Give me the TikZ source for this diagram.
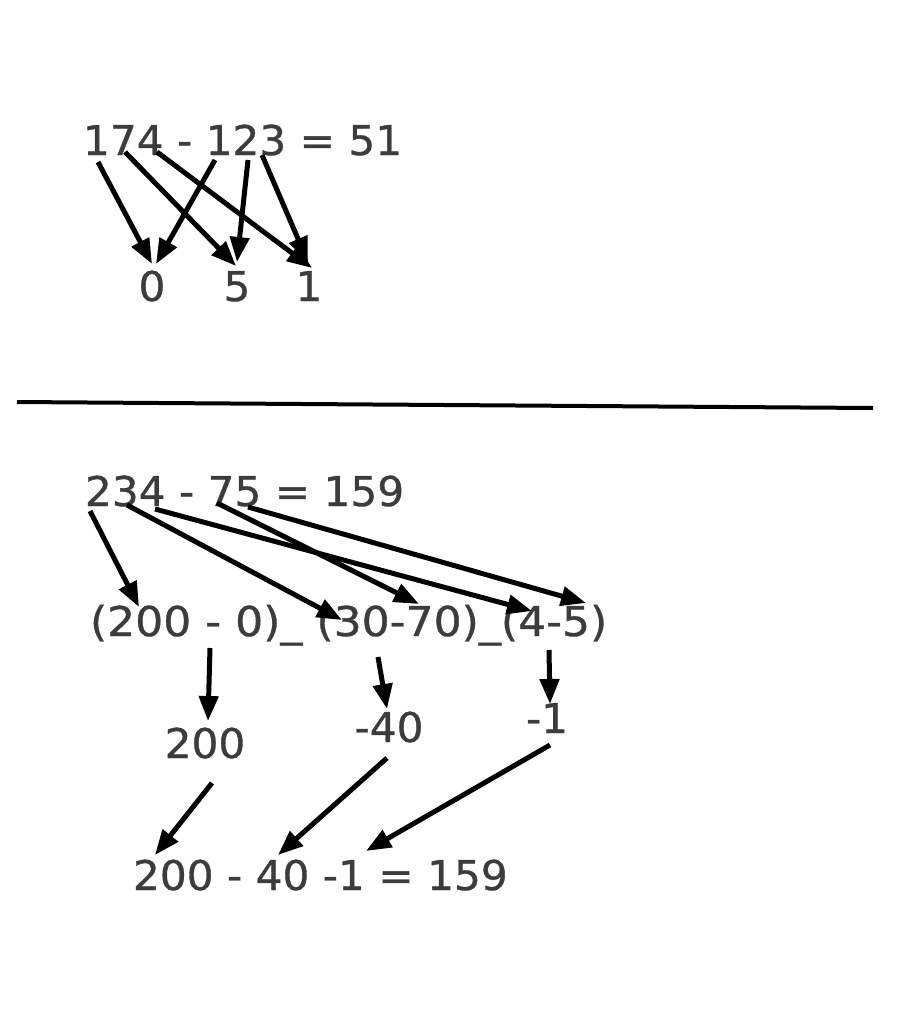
\documentclass[tikz,border=0pt]{standalone}
\usepackage{fontspec}
\setmainfont{DejaVu Sans}[FakeStretch=1.03,FakeBold=0.8]
\usetikzlibrary{arrows.meta}
\definecolor{txt}{HTML}{3C3C3C}
\tikzset{
  lbl/.style={anchor=base west, inner sep=0pt, outer sep=0pt, text=txt, font=\fontsize{41}{45}\selectfont},
  clbl/.style={anchor=base, inner sep=0pt, outer sep=0pt, text=txt, font=\fontsize{41}{45}\selectfont},
  arr/.style={line width=5pt, -{Triangle[length=25pt,width=19pt]}, black},
}
\begin{document}
\begin{tikzpicture}[x=1pt,y=-1pt]
\useasboundingbox (0,0) rectangle (907,1018);
% top part
\node[lbl] (eq1) at (83,155) {174 - 123 = 51};
\node[clbl] (d0) at (152,301) {0};
\node[clbl] (d5) at (237,301) {5};
\node[clbl] (d1) at (309,301) {1};
\coordinate (s1) at (98,162);
\coordinate (s7) at (125,152);
\coordinate (s4) at (157,152);
\coordinate (t1) at (215,160);
\coordinate (t2) at (248,160);
\coordinate (t3) at (262,155);
\coordinate (e0a) at (152,264);
\coordinate (e0b) at (156,264);
\coordinate (e5a) at (236,266);
\coordinate (e5b) at (237,262);
\coordinate (e1a) at (312,268);
\coordinate (e1b) at (308,262);
\draw[arr] (s1) -- (e0a);
\draw[arr] (s7) -- (e5a);
\draw[arr] (s4) -- (e1a);
\draw[arr] (t1) -- (e0b);
\draw[arr] (t2) -- (e5b);
\draw[arr] (t3) -- (e1b);
% separator
\coordinate (hl) at (17,402);
\coordinate (hr) at (873,408);
\draw[line width=4pt, black] (hl) -- (hr);
% bottom part
\node[lbl] (eq2) at (85,506) {234 - 75 = 159};
\node[lbl] (mid) at (90,636) {\addfontfeature{FakeStretch=1.075}(200 - 0)\_ (30-70)\_(4-5)};
\node[clbl] (r200) at (205,758) {200};
\node[clbl] (r40) at (389,742) {-40};
\node[clbl] (r1) at (547,733) {-1};
\node[lbl] (fin) at (133,890) {200 - 40 -1 = 159};
\coordinate (b2) at (90,511);
\coordinate (b3) at (127,505);
\coordinate (b4) at (155,509);
\coordinate (b7) at (217,503);
\coordinate (b5) at (248,507);
\coordinate (m200) at (139,607);
\coordinate (m30a) at (342,620);
\coordinate (m30b) at (419,604);
\coordinate (m4a) at (532,611);
\coordinate (m4b) at (586,603);
\draw[arr] (b2) -- (m200);
\draw[arr] (b3) -- (m30a);
\draw[arr] (b4) -- (m4a);
\draw[arr] (b7) -- (m30b);
\draw[arr] (b5) -- (m4b);
\coordinate (u200) at (210,648);
\coordinate (u40) at (378,657);
\coordinate (u1) at (549,650);
\coordinate (v200) at (208,721);
\coordinate (v40) at (387,709);
\coordinate (v1) at (550,704);
\draw[arr] (u200) -- (v200);
\draw[arr] (u40) -- (v40);
\draw[arr] (u1) -- (v1);
\coordinate (w200) at (212,783);
\coordinate (w40) at (387,758);
\coordinate (w1) at (550,745);
\coordinate (f200) at (155,855);
\coordinate (f40) at (278,855);
\coordinate (f1) at (366,851);
\draw[arr] (w200) -- (f200);
\draw[arr] (w40) -- (f40);
\draw[arr] (w1) -- (f1);
\end{tikzpicture}
\end{document}
